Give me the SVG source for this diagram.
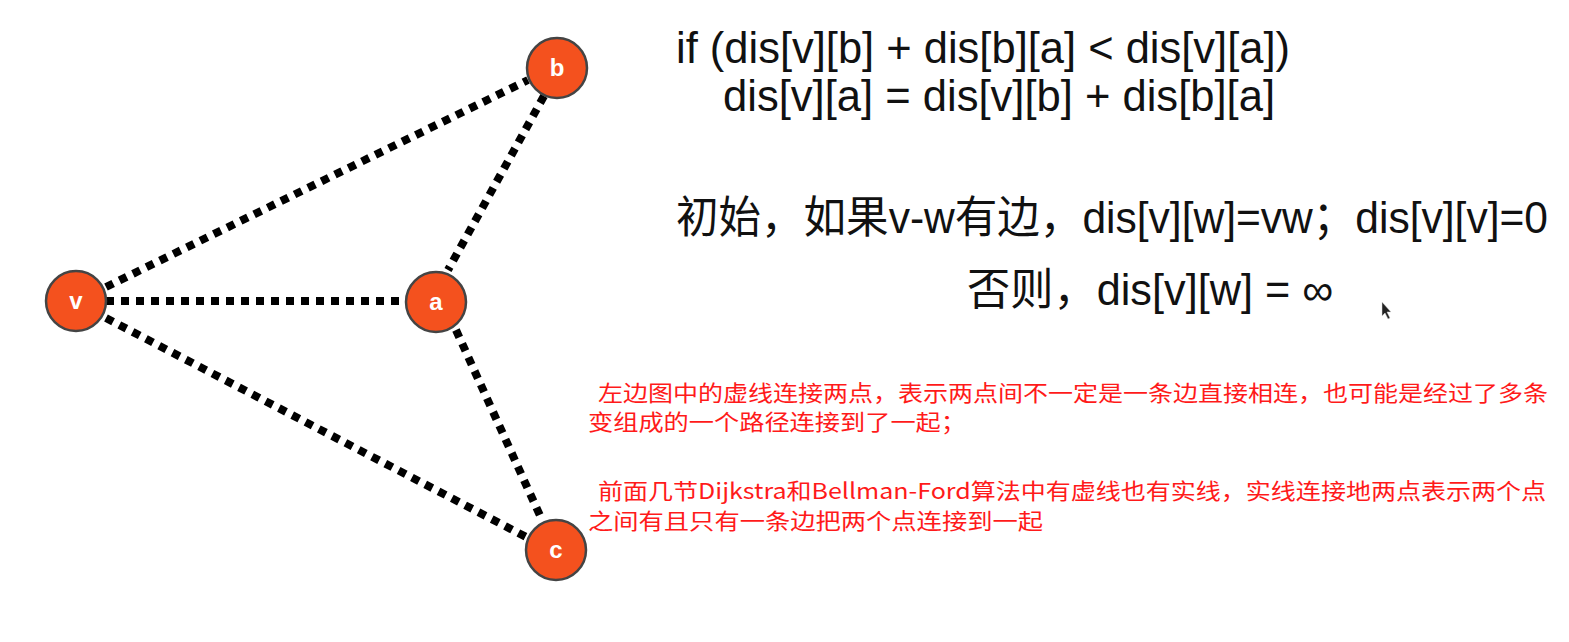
<svg xmlns="http://www.w3.org/2000/svg" width="1569" height="642" viewBox="0 0 1569 642">
<style>
.edge{stroke:#000;stroke-width:8;stroke-dasharray:8 7;fill:none}
.node circle{fill:#F4511E;stroke:#444;stroke-width:2.5}
.node text{fill:#fff;font-family:"Liberation Sans",Arial,sans-serif;font-weight:bold;font-size:24px;text-anchor:middle}
.code{font-family:"Liberation Sans","Noto Sans CJK SC",sans-serif;font-size:44px;fill:#111}
.note{font-family:"Noto Sans CJK SC","Liberation Sans",sans-serif;font-size:22px;fill:#ff1a1a}
</style>
<rect width="1569" height="642" fill="#fff"/>
<g id="connectors">
<line class="edge" x1="106" y1="287" x2="528" y2="80"/>
<line class="edge" x1="106" y1="301" x2="406" y2="301"/>
<line class="edge" x1="106" y1="318" x2="528" y2="538"/>
<line class="edge" x1="544" y1="96" x2="448" y2="270"/>
<line class="edge" x1="456" y1="330" x2="542" y2="520"/>
</g>
<g id="node-v" class="node"><circle cx="76" cy="301" r="30"/><text x="76" y="309">v</text></g>
<g id="node-a" class="node"><circle cx="436" cy="302" r="30"/><text x="436" y="310">a</text></g>
<g id="node-b" class="node"><circle cx="557" cy="68" r="30"/><text x="557" y="76">b</text></g>
<g id="node-c" class="node"><circle cx="556" cy="550" r="30"/><text x="556" y="558">c</text></g>
<g id="texts">
<text class="code" x="676" y="63" textLength="614" lengthAdjust="spacingAndGlyphs">if (dis[v][b] + dis[b][a] &lt; dis[v][a])</text>
<text class="code" x="723" y="111" textLength="552" lengthAdjust="spacingAndGlyphs">dis[v][a] = dis[v][b] + dis[b][a]</text>
<text class="code" x="676" y="233" font-size="38" textLength="872" lengthAdjust="spacingAndGlyphs">初始，如果v-w有边，dis[v][w]=vw；dis[v][v]=0</text>
<text class="code" x="967" y="305" textLength="366" lengthAdjust="spacingAndGlyphs">否则，dis[v][w] = ∞</text>
<text class="note" x="598" y="401" textLength="950" lengthAdjust="spacingAndGlyphs">左边图中的虚线连接两点，表示两点间不一定是一条边直接相连，也可能是经过了多条</text>
<text class="note" x="588" y="430" textLength="378" lengthAdjust="spacingAndGlyphs">变组成的一个路径连接到了一起；</text>
<text class="note" x="598" y="499" textLength="948" lengthAdjust="spacingAndGlyphs">前面几节Dijkstra和Bellman-Ford算法中有虚线也有实线，实线连接地两点表示两个点</text>
<text class="note" x="588" y="529" textLength="455" lengthAdjust="spacingAndGlyphs">之间有且只有一条边把两个点连接到一起</text>
</g>
<polygon points="1382,302 1382,316 1385,313 1388,319 1390,318 1387,312 1391,312" fill="#222" stroke="#ddd" stroke-width="0.5"/>
</svg>
